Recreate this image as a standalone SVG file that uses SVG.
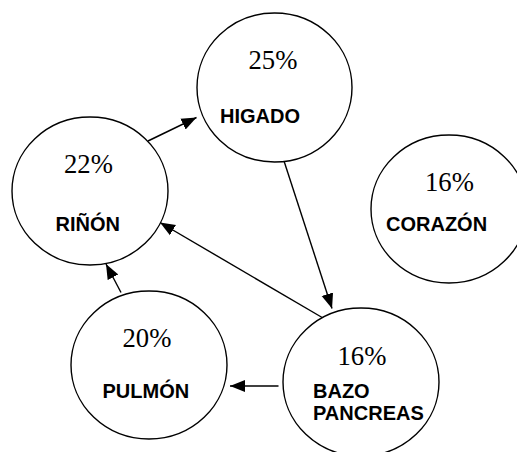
<svg xmlns="http://www.w3.org/2000/svg" width="517" height="452" viewBox="0 0 517 452">
  <style>
    .organ { fill: #ffffff; stroke: #000000; stroke-width: 1.4; }
    .pct { font-family: "Liberation Serif", "Times New Roman", serif; font-size: 26.7px; fill: #000000; }
    .name { font-family: "Liberation Sans", Arial, sans-serif; font-size: 20px; font-weight: bold; fill: #000000; }
    .link { stroke: #000000; stroke-width: 1.4; fill: none; marker-end: url(#head); }
  </style>
  <defs>
    <marker id="head" markerUnits="userSpaceOnUse" markerWidth="16" markerHeight="14" viewBox="0 0 16 14" refX="15" refY="7" orient="auto">
      <path d="M0,1 L15,7 L0,13 Z" fill="#000000"/>
    </marker>
  </defs>
  <rect width="517" height="452" fill="#ffffff"/>

  <g id="connectors">
    <line class="link" x1="148" y1="141" x2="196.5" y2="117.5"/>
    <line class="link" x1="284" y1="161" x2="332" y2="308.5"/>
    <line class="link" x1="323" y1="318" x2="160" y2="222.5"/>
    <line class="link" x1="121" y1="292.5" x2="106" y2="264"/>
    <line class="link" x1="278.5" y1="386" x2="230" y2="386"/>
  </g>

  <g id="higado">
    <ellipse class="organ" cx="274.5" cy="87.5" rx="77.5" ry="74.5"/>
    <text class="pct" x="248.5" y="69">25%</text>
    <text class="name" x="220" y="123">HIGADO</text>
  </g>

  <g id="rinon">
    <ellipse class="organ" cx="90" cy="191" rx="78" ry="74"/>
    <text class="pct" x="64" y="173">22%</text>
    <text class="name" x="55.5" y="231">RIÑÓN</text>
  </g>

  <g id="corazon">
    <ellipse class="organ" cx="449" cy="209" rx="78" ry="74"/>
    <text class="pct" x="425" y="191">16%</text>
    <text class="name" x="386" y="231">CORAZÓN</text>
  </g>

  <g id="pulmon">
    <ellipse class="organ" cx="149" cy="365" rx="78" ry="74"/>
    <text class="pct" x="122.5" y="347">20%</text>
    <text class="name" x="102.5" y="397.5">PULMÓN</text>
  </g>

  <g id="bazo-pancreas">
    <ellipse class="organ" cx="361" cy="382" rx="78" ry="74"/>
    <text class="pct" x="337.5" y="364.5">16%</text>
    <text class="name" x="313" y="398">BAZO</text>
    <text class="name" x="313" y="420">PANCREAS</text>
  </g>
</svg>
